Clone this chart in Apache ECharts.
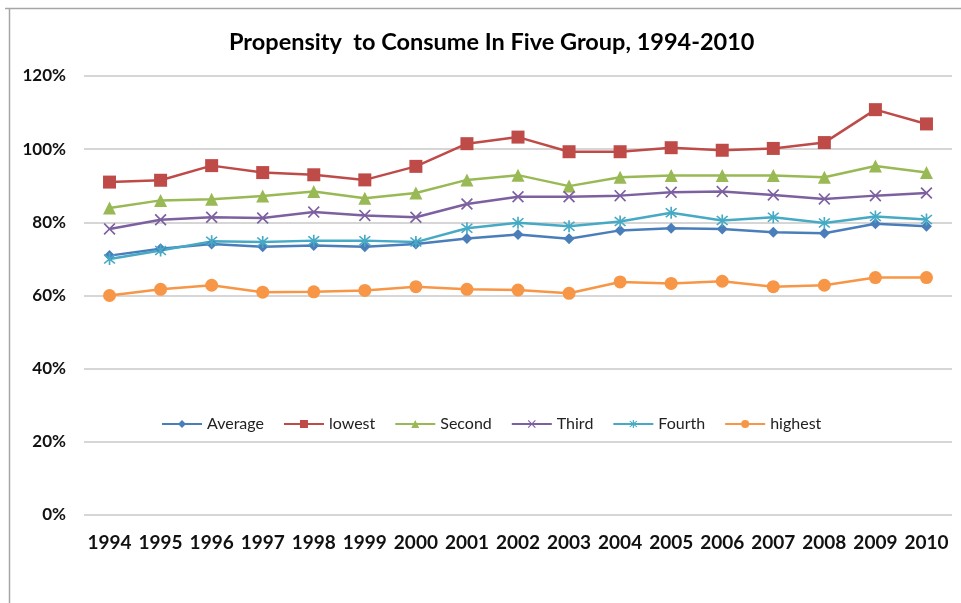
<!DOCTYPE html>
<html><head><meta charset="utf-8">
<script src="https://cdn.jsdelivr.net/npm/echarts@6/dist/echarts.min.js"></script>
<style>html,body{margin:0;padding:0;background:#fff}#c{width:961px;height:603px}</style>
</head><body><div id="c"></div>
<script>
var years = ['1994','1995','1996','1997','1998','1999','2000','2001','2002','2003','2004','2005','2006','2007','2008','2009','2010'];
var average = [70.9,72.8,74.1,73.3,73.7,73.3,74.1,75.6,76.7,75.5,77.8,78.4,78.2,77.3,77.0,79.6,78.9];
var lowest  = [91.0,91.5,95.5,93.6,93.0,91.6,95.3,101.5,103.3,99.3,99.3,100.4,99.7,100.2,101.8,110.8,106.9];
var second  = [83.9,86.0,86.3,87.2,88.4,86.6,88.0,91.6,92.9,89.9,92.3,92.8,92.8,92.8,92.3,95.4,93.6];
var third   = [78.2,80.7,81.4,81.2,82.8,81.9,81.4,85.0,87.0,87.0,87.3,88.2,88.4,87.5,86.4,87.3,88.0];
var fourth  = [70.0,72.3,74.8,74.6,75.0,75.0,74.6,78.4,79.9,78.9,80.2,82.6,80.5,81.4,79.8,81.6,80.8];
var highest = [60.0,61.7,62.8,60.9,61.0,61.4,62.4,61.7,61.5,60.6,63.7,63.3,63.9,62.4,62.8,64.9,64.9];
var yTicks = [0,20,40,60,80,100,120];

var xPath = 'path://M0,1 L1,0 L5,4 L9,0 L10,1 L6,5 L10,9 L9,10 L5,6 L1,10 L0,9 L4,5 Z';
var starPath = 'path://M0,1 L1,0 L5,4 L9,0 L10,1 L6,5 L10,9 L9,10 L5,6 L1,10 L0,9 L4,5 Z M4.3,-1 L5.7,-1 L5.7,11 L4.3,11 Z';
var font = 'Lato, "Liberation Sans", sans-serif';

function mk(name, data, color, symbol, size) {
  return {
    name: name, type: 'line', data: data, symbol: symbol, symbolSize: size,
    lineStyle: { color: color, width: 2.5 },
    itemStyle: { color: color },
    emphasis: { disabled: true }
  };
}

var chart = echarts.init(document.getElementById('c'));
chart.setOption({
  animation: false,
  backgroundColor: '#fff',
  title: {
    text: 'Propensity  to Consume In Five Group, 1994-2010',
    left: 224, top: 25,
    textStyle: { fontFamily: font, fontWeight: 'bold', fontSize: 23.5, color: '#000' }
  },
  graphic: [
    { type: 'line', shape: { x1: 5, y1: 8.5, x2: 961, y2: 8.5 }, style: { stroke: '#a6a6a6', lineWidth: 1.5 } },
    { type: 'line', shape: { x1: 9.5, y1: 8, x2: 9.5, y2: 603 }, style: { stroke: '#a6a6a6', lineWidth: 1.5 } }
  ],
  legend: {
    top: 411, left: 156, itemWidth: 40, itemHeight: 10, itemGap: 19,
    textStyle: { fontFamily: font, fontSize: 16, color: '#222' },
    data: ['Average','lowest','Second','Third','Fourth','highest']
  },
  grid: { left: 84, right: 9, top: 76, bottom: 88, containLabel: false },
  xAxis: {
    type: 'category', data: years, boundaryGap: true,
    axisLine: { show: false }, axisTick: { show: false },
    axisLabel: { fontFamily: font, fontWeight: 'bold', fontSize: 19, color: '#111', margin: 18, interval: 0 }
  },
  yAxis: {
    type: 'value', min: 0, max: 120, interval: 20,
    axisLine: { show: false }, axisTick: { show: false },
    splitLine: { lineStyle: { color: '#c8c8c8', width: 1.5 } },
    axisLabel: { fontFamily: font, fontWeight: 'bold', fontSize: 17, color: '#111', margin: 18,
      formatter: function (v) { return yTicks.indexOf(v) >= 0 ? v + '%' : ''; } }
  },
  series: [
    mk('Average', average, '#4A7EBB', 'diamond', 11),
    mk('lowest', lowest, '#BE4B48', 'rect', 13),
    mk('Second', second, '#98B954', 'triangle', 13),
    mk('Third', third, '#7D60A0', xPath, 12),
    mk('Fourth', fourth, '#46AAC5', starPath, 12),
    mk('highest', highest, '#F79646', 'circle', 13)
  ]
});
</script>
</body></html>
